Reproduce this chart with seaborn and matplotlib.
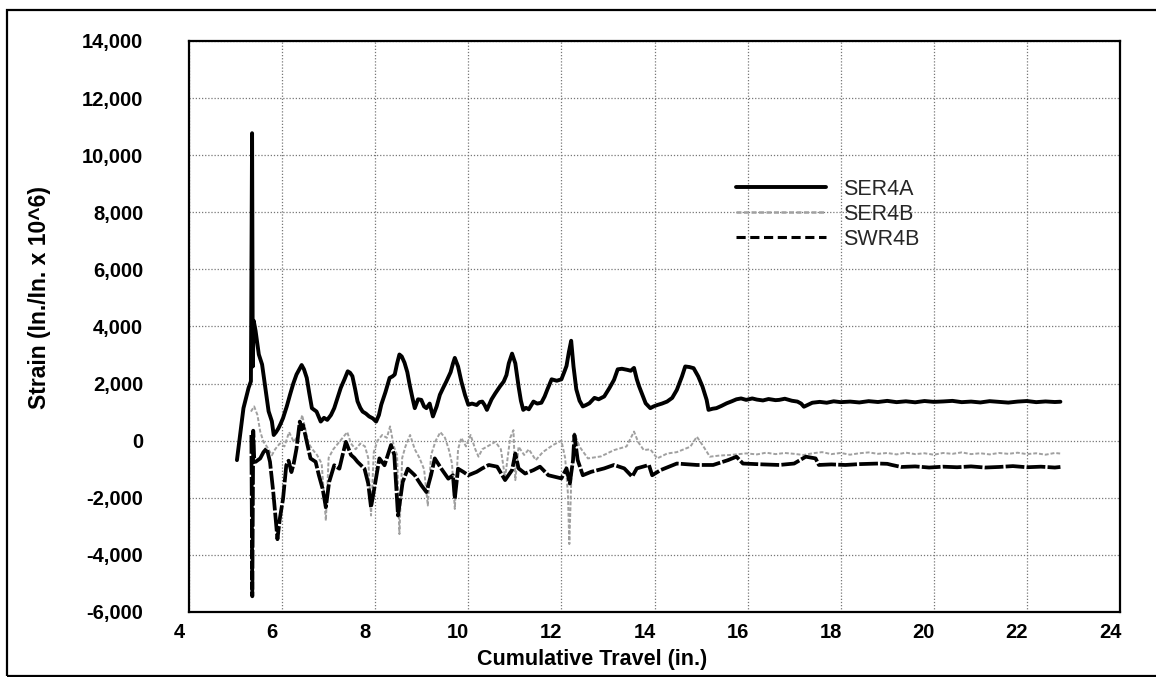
import matplotlib
matplotlib.use("Agg")
import matplotlib.pyplot as plt
import pandas as pd
import seaborn as sns
from matplotlib.patches import Rectangle
from matplotlib.lines import Line2D
from matplotlib.transforms import ScaledTranslation
from matplotlib.ticker import FuncFormatter

# ---------------- data ----------------
series_names = ["SER4A", "SER4B", "SWR4B"]

ser4a_x = [5.03, 5.17, 5.28, 5.33, 5.355, 5.37, 5.39, 5.43, 5.50, 5.57, 5.64, 5.71, 5.78, 5.82,
           5.87, 5.92, 5.97, 6.02, 6.10, 6.17, 6.24, 6.31, 6.37, 6.42, 6.47, 6.53, 6.58,
           6.64, 6.74, 6.83, 6.90, 6.97, 7.05, 7.12, 7.19, 7.26, 7.34, 7.41, 7.46, 7.51,
           7.57, 7.62, 7.68, 7.73, 7.80, 7.87, 7.95, 8.02, 8.08, 8.13, 8.22, 8.31, 8.37,
           8.42, 8.47, 8.52, 8.57, 8.63, 8.69, 8.74, 8.80, 8.85, 8.92, 8.99, 9.05, 9.10,
           9.17, 9.24, 9.32, 9.39, 9.46, 9.53, 9.62, 9.67, 9.71, 9.78, 9.85, 9.93, 10.0,
           10.08, 10.18, 10.24, 10.30, 10.35, 10.40, 10.50, 10.58, 10.68, 10.76, 10.82,
           10.87, 10.94, 11.01, 11.08, 11.13, 11.18, 11.24, 11.30, 11.40, 11.48, 11.57,
           11.64, 11.70, 11.79, 11.90, 12.0, 12.06, 12.11, 12.16, 12.21, 12.26, 12.32,
           12.39, 12.46, 12.53, 12.60, 12.71, 12.80, 12.92, 13.03, 13.13, 13.21, 13.30,
           13.42, 13.49, 13.56, 13.62, 13.67, 13.74, 13.81, 13.91, 13.98, 14.06, 14.16,
           14.27, 14.38, 14.48, 14.59, 14.66, 14.75, 14.84, 14.94, 15.03, 15.12, 15.16,
           15.25, 15.33, 15.44, 15.55, 15.66, 15.76, 15.86, 15.97, 16.10, 16.20, 16.33,
           16.45, 16.60, 16.68, 16.80, 16.95, 17.07, 17.15, 17.21, 17.30, 17.39, 17.55,
           17.70, 17.85, 18.0, 18.2, 18.4, 18.6, 18.8, 19.0, 19.2, 19.4, 19.6, 19.8,
           20.0, 20.2, 20.4, 20.6, 20.8, 21.0, 21.2, 21.4, 21.6, 21.8, 22.0, 22.2, 22.4,
           22.6, 22.72]
ser4a_y = [-680, 1140, 1850, 2080, 10770, 2600, 4200, 3850, 3020, 2670, 1850, 1030, 680, 200,
           300, 430, 600, 790, 1200, 1610, 2000, 2320, 2500, 2650, 2500, 2200, 1700,
           1140, 1020, 670, 800, 730, 900, 1140, 1500, 1850, 2150, 2430, 2380, 2260,
           1800, 1380, 1150, 1020, 950, 850, 780, 670, 900, 1260, 1700, 2200, 2250,
           2320, 2700, 3020, 2950, 2730, 2400, 1960, 1500, 1140, 1450, 1430, 1200, 1140,
           1300, 850, 1200, 1610, 1850, 2080, 2400, 2700, 2900, 2600, 2080, 1600, 1260,
           1300, 1250, 1350, 1370, 1250, 1080, 1450, 1660, 1900, 2070, 2300,
           2710, 3050, 2710, 1900, 1400, 1080, 1150, 1100, 1370, 1300, 1330,
           1550, 1800, 2150, 2100, 2150, 2400, 2620, 3100, 3500, 2600, 1800,
           1400, 1200, 1250, 1310, 1500, 1450, 1550, 1840, 2130, 2500, 2520,
           2480, 2450, 2550, 2150, 1900, 1600, 1310, 1140, 1200, 1250, 1300,
           1370, 1500, 1780, 2250, 2600, 2580, 2540, 2250, 1900, 1430, 1080,
           1120, 1140, 1220, 1310, 1380, 1450, 1480, 1430, 1480, 1440, 1410,
           1460, 1420, 1430, 1470, 1400, 1370, 1300, 1190, 1260, 1330, 1360,
           1330, 1380, 1350, 1370, 1340, 1385, 1355, 1395, 1350, 1380, 1345, 1390,
           1360, 1375, 1395, 1350, 1370, 1340, 1385, 1360, 1335, 1370, 1390, 1350, 1375,
           1355, 1365]

ser4b_x = [5.33, 5.40, 5.47, 5.53, 5.60, 5.67, 5.78, 5.85, 5.95, 6.05, 6.15, 6.25, 6.35,
           6.43, 6.50, 6.57, 6.65, 6.75, 6.85, 6.94, 7.00, 7.10, 7.20, 7.30, 7.40, 7.48,
           7.58, 7.68, 7.78, 7.85, 7.91, 7.97, 8.05, 8.15, 8.25, 8.32, 8.40, 8.47, 8.52,
           8.58, 8.65, 8.75, 8.85, 8.95, 9.05, 9.13, 9.20, 9.30, 9.40, 9.50, 9.58, 9.65,
           9.71, 9.78, 9.85, 9.95, 10.05, 10.15, 10.22, 10.30, 10.40, 10.58, 10.70, 10.79,
           10.90, 10.97, 11.01, 11.08, 11.20, 11.30, 11.45, 11.60, 11.82, 12.0, 12.08,
           12.14, 12.17, 12.21, 12.28, 12.39, 12.57, 12.85, 13.13, 13.40, 13.56, 13.65,
           13.77, 13.91, 14.06, 14.27, 14.48, 14.77, 14.91, 15.05, 15.19, 15.40, 15.62,
           15.97, 16.2, 16.4, 16.6, 16.8, 17.0, 17.2, 17.4, 17.6, 17.8, 18.0, 18.2, 18.4,
           18.6, 18.8, 19.0, 19.2, 19.4, 19.6, 19.8, 20.0, 20.2, 20.4, 20.6, 20.8, 21.0,
           21.2, 21.4, 21.6, 21.8, 22.0, 22.2, 22.4, 22.6, 22.72]
ser4b_y = [1020, 1200, 900, 320, -40, -200, -510, -300, -100, -200, 300, -40, 200,
           900, 400, -100, -300, -500, -800, -2800, -600, -300, -100, 100, 300, -100,
           -300, -100, -200, -600, -2620, -400, 0, 200, 100, 500, -200, -500, -3270,
           -600, -200, 200, -300, -600, -1000, -2270, -500, 0, 300, 100, -300, -800,
           -2390, -300, 100, -200, 200, -300, -560, -300, -210, -40, -300, -1300,
           100, 370, -1380, -210, -500, -300, -680, -400, -150, 0, -600,
           -1850, -3620, -1500, 260, -210, -620, -550, -330, -200, 320, -50,
           -330, -300, -620, -450, -400, -210, 140, -200, -560, -520, -500,
           -445, -480, -420, -470, -430, -460, -500, -440, -400, -470, -430, -490,
           -440, -410, -460, -430, -480, -420, -470, -440, -490, -430, -460, -410, -470,
           -440, -480, -430, -460, -420, -470, -440, -490, -430, -450]

swr4b_x = [5.34, 5.36, 5.38, 5.40, 5.43, 5.53, 5.60, 5.67, 5.74, 5.81, 5.86, 5.90, 5.95,
           6.02, 6.09, 6.14, 6.20, 6.25, 6.31, 6.38, 6.42, 6.45, 6.53, 6.61, 6.72, 6.79,
           6.87, 6.94, 7.01, 7.12, 7.23, 7.30, 7.37, 7.48, 7.55, 7.62, 7.77, 7.85, 7.91,
           7.98, 8.09, 8.20, 8.34, 8.41, 8.49, 8.59, 8.70, 8.85, 8.99, 9.10, 9.20, 9.28,
           9.42, 9.57, 9.67, 9.71, 9.78, 9.90, 10.0, 10.18, 10.30, 10.44, 10.62, 10.79,
           10.94, 11.01, 11.08, 11.22, 11.40, 11.54, 11.72, 12.0, 12.11, 12.18, 12.25,
           12.28, 12.35, 12.46, 12.64, 12.92, 13.13, 13.35, 13.52, 13.62, 13.88, 13.95,
           14.13, 14.48, 14.91, 15.26, 15.58, 15.76, 15.90, 16.33, 16.68, 17.0, 17.25,
           17.46, 17.53, 17.8, 18.1, 18.4, 18.81, 19.0, 19.1, 19.3, 19.6, 19.9, 20.2,
           20.5, 20.8, 21.1, 21.4, 21.7, 22.0, 22.3, 22.6, 22.72]
swr4b_y = [200, -5450, 350, -600, -740, -620, -400, -270, -740, -1800, -2700, -3450, -2740,
           -2040, -860, -700, -1100, -800, -270, 670, 400, 550, -40, -620, -740, -1210,
           -1680, -2330, -1450, -860, -980, -500, -40, -500, -600, -740, -980, -1500, -2330,
           -1680, -620, -860, -150, -500, -2620, -1450, -980, -1210, -1560, -1800, -1200, -620,
           -980, -1330, -1210, -2030, -980, -1100, -1210, -1090, -970, -850, -910, -1380,
           -1030, -450, -970, -1150, -1030, -910, -1210, -1320, -970, -1500, -680,
           200, -680, -1210, -1090, -970, -850, -970, -1260, -970, -850, -1210,
           -1030, -800, -850, -850, -680, -560, -800, -830, -850, -800, -560,
           -620, -850, -830, -850, -820, -800, -810, -850, -920, -900, -940, -910,
           -930, -900, -940, -920, -890, -930, -910, -940, -920]

x_ticks = [4, 6, 8, 10, 12, 14, 16, 18, 20, 22, 24]
y_ticks = [-6000, -4000, -2000, 0, 2000, 4000, 6000, 8000, 10000, 12000, 14000]
x_label = "Cumulative Travel (in.)"
y_label = "Strain (In./In. x 10^6)"

# ---------------- style ----------------
sns.set_theme(style="white")
plt.rcParams['font.family'] = ['Liberation Sans', 'DejaVu Sans']

W, H = 1156, 677
fig = plt.figure(figsize=(W / 100, H / 100), dpi=100)
fig.patch.set_facecolor("white")
L, R, T, B = 189, 1120, 41, 612
ax = fig.add_axes([L / W, 1 - B / H, (R - L) / W, (B - T) / H])

df_a = pd.DataFrame({"x": ser4a_x, "y": ser4a_y})
df_b = pd.DataFrame({"x": ser4b_x, "y": ser4b_y})
df_w = pd.DataFrame({"x": swr4b_x, "y": swr4b_y})

gray = "#a0a0a0"
sns.lineplot(data=df_b, x="x", y="y", sort=False, estimator=None, color=gray,
             lw=1.4, ax=ax, legend=False, zorder=3)
ax.lines[-1].set_dashes([2, 1])
sns.lineplot(data=df_w, x="x", y="y", sort=False, estimator=None, color="black",
             lw=2.7, ax=ax, legend=False, zorder=4)
ax.lines[-1].set_dashes([5, 0.6])
sns.lineplot(data=df_a, x="x", y="y", sort=False, estimator=None, color="black",
             lw=2.8, ax=ax, legend=False, zorder=5)

ax.set_xlim(4, 24)
ax.set_ylim(-6000, 14000)
ax.set_xticks(x_ticks)
ax.set_yticks(y_ticks)
ax.yaxis.set_major_formatter(FuncFormatter(lambda v, p: f"{int(v):,}"))
ax.grid(True, color="#777777", linestyle=(0, (1, 1.5)), linewidth=0.9)
for s in ax.spines.values():
    s.set_color("black")
    s.set_linewidth(1.6)
ax.tick_params(axis="both", length=0, labelsize=14.5, colors="black")
ax.tick_params(axis="y", pad=33)
ax.tick_params(axis="x", pad=8)
for lab in ax.get_xticklabels() + ax.get_yticklabels():
    lab.set_fontweight("bold")
for lab in ax.get_xticklabels():
    lab.set_transform(lab.get_transform() + ScaledTranslation(-0.10, 0, fig.dpi_scale_trans))

ax.set_xlabel(x_label, fontsize=15.5, fontweight="bold", color="black")
ax.set_ylabel(y_label, fontsize=16.5, fontweight="bold", color="black")
ax.xaxis.set_label_coords((592 - L) / (R - L), (B - 660) / (B - T))
ax.yaxis.set_label_coords((40 - L) / (R - L), (B - 298) / (B - T))
ax.xaxis.label.set_va("center")
ax.yaxis.label.set_va("center")

handles = [Line2D([], [], color="black", lw=2.8),
           Line2D([], [], color=gray, lw=1.8, dashes=[2, 1]),
           Line2D([], [], color="black", lw=2.2, dashes=[3, 1.5])]
ax.legend(handles, series_names, loc="upper left",
          bbox_to_anchor=(736 / W, 1 - 179 / H), bbox_transform=fig.transFigure,
          frameon=False, fontsize=15.5, handlelength=4.2, handletextpad=0.75,
          labelspacing=0.18, borderpad=0, borderaxespad=0)

fig.patches.append(Rectangle((7 / W, 1 / H), 1.2, 1 - 10 / H - 1 / H,
                             transform=fig.transFigure, fill=False,
                             ec="black", lw=1.6, zorder=10))

fig.savefig("out.png", dpi=100, facecolor="white")
